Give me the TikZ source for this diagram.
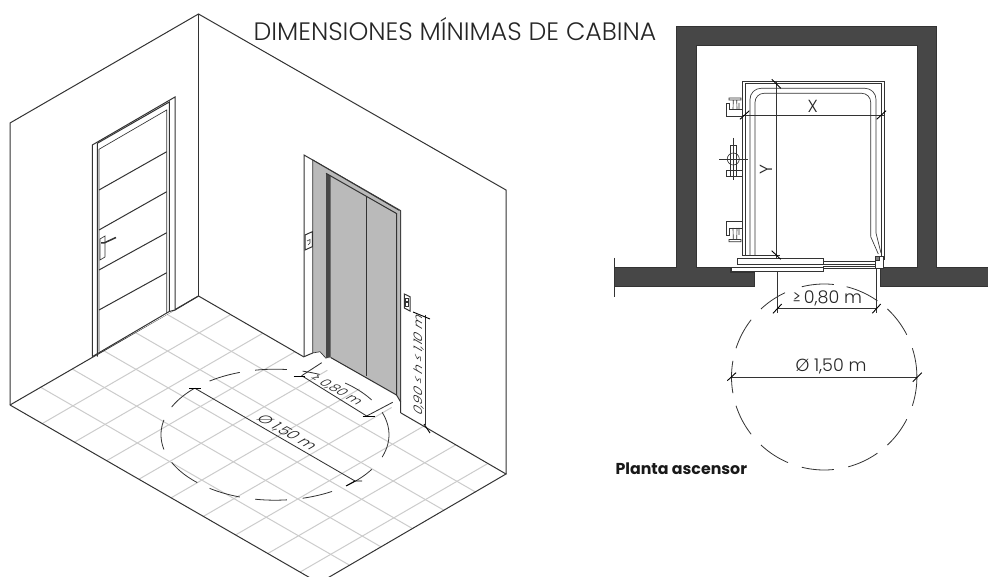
\documentclass[tikz,border=0pt]{standalone}
\usepackage{fontspec}
\setmainfont{Poppins}
\newfontfamily\lightfont{Poppins Light}
\definecolor{ink}{gray}{0.2}
\definecolor{tile}{gray}{0.80}
\definecolor{steel}{gray}{0.73}
\definecolor{wallfill}{gray}{0.28}
\tikzset{
 ln/.style={draw=ink,line width=1pt,line join=miter},
 thin ln/.style={draw=ink,line width=0.65pt},
 tileln/.style={draw=tile,line width=1pt},
 tick/.style={draw=black,line width=0.9pt},
 dimln/.style={draw=ink,line width=0.85pt},
 arcln/.style={draw=ink,line width=0.8pt},
 lbl/.style={inner sep=0pt,font=\lightfont\fontsize{17.5}{18}\selectfont,text=black!85},
 isolbl/.style={inner sep=0pt,font=\lightfont\fontsize{15.5}{16}\selectfont,text=black!85,transform shape},
 isosmall/.style={inner sep=0pt,font=\lightfont\fontsize{13.5}{14}\selectfont,text=black!85,transform shape},
}
\begin{document}
\begin{tikzpicture}[x=1pt,y=-1pt]
\useasboundingbox (0,0) rectangle (988,577);
\clip (0,0) rectangle (988,577);
\fill[white] (0,0) rectangle (988,577);
% floor tiles
\foreach \k in {1,...,9}{
  \pgfmathsetmacro\a{32.2*\k}
  \draw[tileln] ({198.5+\a},{296+0.577*\a}) -- ({10+\a},{405+0.577*\a});
}
\foreach \k in {1,...,5}{
  \pgfmathsetmacro\b{31.6*\k}
  \draw[tileln] ({198.5-\b},{296+0.577*\b}) -- ({198.5-\b+309},{296+0.577*\b+178});
}
% room
\draw[ln] (10,405) -- (10,123) -- (198.5,14) -- (506,190) -- (506,474);
\draw[ln] (198.5,14) -- (198.5,296);
\draw[ln] (10,405) -- (198.5,296) -- (304,357);
\draw[ln] (10,405) -- (319,583) -- (506,474) -- (401,413);
% door
\draw[ln,fill=white] (92.3,356.7) -- (92.3,145) -- (175,97) -- (175,310) -- (198.5,296) -- (175,310);
\draw[ln] (97.3,356.7) -- (97.3,143.3) -- (169.3,102) -- (169.3,311.5);
\draw[ln] (92.3,356.7) -- (97.3,353.7) -- (169.3,311.5) -- (175,310);
\draw[thin ln] (99,351.5) -- (99,149.3) -- (166.7,110) -- (166.7,313);
\draw[ln] (99,190) -- (166.7,151.7) (99,230) -- (166.7,191.7) (99,270) -- (166.7,232.7) (99,310) -- (166.7,272.7);
\draw[thin ln] (100,239) -- (105,236) -- (105,257) -- (100,260) -- cycle;
\draw[ln,line width=1.5pt] (101,243) -- (104,243) -- (116,237.5);
% elevator surround
\draw[ln] (304,356.7) -- (304,155) -- (400.7,210.7) -- (400.7,413);
\fill[steel] (312.7,160) -- (400,210.5) -- (400,401.7) -- (396.7,395) -- (330.7,358) -- (326,358.3) -- (320,351.7) -- (312.7,353) -- cycle;
\draw[thin ln] (312.7,160) -- (312.7,353) -- (320,351.7) -- (326,358.3);
\draw[ln] (304,356.7) -- (312.7,353);
\draw[ln] (312.7,160) -- (399.5,210.5);
\fill[wallfill] (326,173.3) -- (330.7,176) -- (330.7,357) -- (326,358.3) -- cycle;
\draw[ln] (326,173.3) -- (396.5,213.5) -- (396.5,395);
\draw[ln] (330.7,357.5) -- (396.5,395) -- (400.7,402);
\draw[ln] (366,196) -- (366,376);
% buttons
\draw[ln,fill=white] (305,235) -- (312.3,231.7) -- (312.3,246.7) -- (305,250) -- cycle;
\draw[thin ln] (307,241) -- (310,239.5) -- (310,243) -- (308,245);
\draw[ln,fill=white] (404.3,294) -- (410,296.7) -- (410,311) -- (404.3,308) -- cycle;
\draw[thin ln,fill=white] (405.5,298) rectangle (408.8,301.5) (405.5,302.5) rectangle (408.8,306);
% dashed floor circle
\foreach \s/\e in {-20/20,32/51,60/76,84/100,108/125,133/155,167/193,205/225,235/252,260/276,284/293,308/328}{
  \draw[arcln] plot[domain=\s:\e,samples=14,smooth] ({275+114*cos(\x)},{434.7+65.5*sin(\x)});
}
% floor dims
\coordinate (da) at (195,388.3);
\coordinate (db) at (355,481);
\draw[dimln] (da) -- (db);
\draw[tick] (189,388.3) -- (201,388.3);
\draw[tick] (346,486) -- (355,481) -- (362,481);
\coordinate (ea) at (301.7,375.7);
\coordinate (eb) at (366.7,416);
\draw[dimln] (ea) -- (eb);
\draw[dimln] (ea) -- (321.7,362.7);
\draw[dimln] (eb) -- (392.7,402.3);
\draw[tick] (293.5,376) -- (305,376);
\draw[tick] (362.5,416) -- (375,416);
\coordinate (ha) at (425,315);
\coordinate (hb) at (425,425);
\draw[dimln] (ha) -- (hb);
\draw[tick] (413,312) -- (430,319);
\draw[tick] (424,424) -- (430,433);
\node[isolbl,cm={0.866,-0.5,0.866,0.5,(286.7,432.7)}] (t150) at (0,0) {Ø 1,50 m};
\node[isosmall,cm={0.866,-0.5,0.866,0.5,(336.5,390)}] (t080) at (0,0) {≥ 0,80 m};
\node[isosmall,cm={0,1,-0.866,0.5,(419.5,365)}] (th) at (0,0) {0,90 ≤ h ≤ 1,10 m};
% title
\node[inner sep=0pt,font=\lightfont\fontsize{25.2}{27}\selectfont,text=black!85] (title) at (455,29) {DIMENSIONES MÍNIMAS DE CABINA};
% plan: walls
\draw[draw=black!80,line width=0.8pt,fill=wallfill] (696,267.3) -- (730,267.3) -- (730,272.7) -- (754,272.7) -- (754,286.7) -- (614,286.7) -- (614,267.3) -- (676.7,267.3) -- (676.7,26.7) -- (936.7,26.7) -- (936.7,267.3) -- (988,267.3) -- (988,286.7) -- (880,286.7) -- (880,267.3) -- (917.3,267.3) -- (917.3,45.7) -- (696,45.7) -- cycle;
\draw[thin ln] (614,258) -- (614,297);
% plan: cabin
\draw[ln,line width=0.8pt] (742.3,256) -- (742.3,81) -- (884,81) -- (884,260);
\draw[thin ln] (745,256) -- (745,83.3) -- (881.7,83.3) -- (881.7,256);
\draw[thin ln,rounded corners=11pt] (750,256) -- (750,88.3) -- (876,88.3) -- (876,233);
\draw[thin ln] (876,233) -- (881,253);
\draw[thin ln,rounded corners=9pt] (755,256) -- (755,93.3) -- (870.7,93.3) -- (870.7,236.7);
\draw[thin ln] (870.7,236.7) -- (878.3,254);
\draw[thin ln] (742.3,255) -- (780,255);
% plan: doors
\draw[thin ln,fill=white] (737.7,258.3) rectangle (823.3,264.3);
\draw[thin ln,fill=white] (731.7,267) rectangle (823.3,271.7);
\draw[thin ln] (823.3,261.7) -- (879,261.7) (823.3,264.3) -- (879,264.3);
\draw[ln,line width=0.7pt] (823.3,266) -- (879,266) (823.3,268) -- (879,268);
\draw[thin ln,fill=white] (875,256.7) rectangle (883,268);
\draw[ln,fill=gray] (875.5,257) rectangle (879,261);
% plan: guides
\draw[thin ln] (741.7,109.3) -- (729,109.3) -- (729,103) -- (726,103) -- (726,116) -- (741.7,116);
\draw[thin ln] (729,98) -- (741,98) -- (741,100) -- (729,100) -- cycle (733.3,100) -- (733,109.3) (736.7,100) -- (737,109.3) (739,103) -- (739,109.3);
\draw[thin ln] (741.7,221.7) -- (726,221.7) -- (726,235) -- (729,235) -- (729,228) -- (741.7,228);
\draw[thin ln] (729,241.7) -- (741,241.7) -- (741,239.5) -- (729,239.5) -- cycle (733.3,239.5) -- (733,228) (736.7,239.5) -- (737,228) (739,228) -- (739,235);
\draw[thin ln] (719,159) -- (748,159) (733.3,138) -- (733.3,180);
\draw[thin ln] (733.3,159) circle[radius=6];
\draw[ln,line width=0.8pt] (730.7,145) rectangle (736,176.7);
\draw[thin ln] (741.7,170) -- (726,170) -- (726,176.7) -- (741.7,176.7);
% plan: dims
\draw[dimln] (741.7,115) -- (885,115);
\draw[tick] (740,119.3) -- (749.3,110.7);
\draw[tick] (876.7,119.3) -- (886,110.7);
\draw[dimln] (776,81) -- (776,259);
\draw[tick] (771.7,79.3) -- (780.7,88.3);
\draw[tick] (771.7,250.7) -- (780.7,259.3);
\node[lbl] (tx) at (812.7,106.7) {X};
\node[lbl,rotate=90] (ty) at (766.7,169.3) {Y};
\draw[thin ln] (777,271.7) -- (777,313) (876.5,268) -- (876.5,313);
\draw[dimln] (777,308.7) -- (876.5,308.7);
\draw[tick] (773,313.3) -- (781.7,304);
\draw[tick] (872.3,313.3) -- (880.7,304);
\node[lbl] (p080) at (827.3,298) {≥\,0,80 m};
\foreach \s/\e in {-18/18,27/47,55/75,84/104,113/133,142/162,170/190,198/218,227/245,256/276,284/305,313/333}{
  \draw[arcln] plot[domain=\s:\e,samples=14,smooth] ({824.2+92.7*cos(\x)},{377+93*sin(\x)});
}
\draw[dimln] (732,377.3) -- (917,377.3);
\draw[tick] (727.3,380.7) -- (736,372.7);
\draw[tick] (912.7,381.7) -- (921.7,372.7);
\node[lbl] (p150) at (831,366.7) {Ø 1,50 m};
\node[inner sep=0pt,font=\bfseries\fontsize{15.8}{17}\selectfont,text=black!90] (cap) at (681.3,469) {Planta ascensor};
\end{tikzpicture}
\end{document}
